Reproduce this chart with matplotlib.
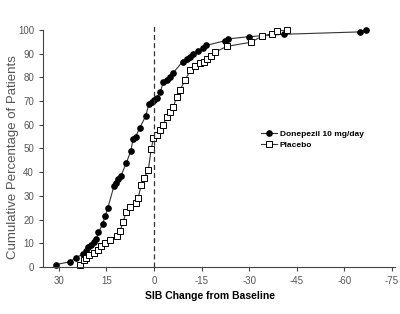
import matplotlib.pyplot as plt

plt.rcParams['font.family'] = ['Liberation Sans', 'DejaVu Sans']

# SIB change from baseline (x) vs cumulative percentage of patients (y)
donepezil_x = [31, 26.5, 24.5, 22.5, 21.5, 20.7, 19.8, 19, 18.3, 17.5, 16.2, 15.4, 14.6,
               12.6, 12, 11.3, 10.4, 8.7, 7.3, 6.6, 5.8, 4.5, 2.6, 1.6, 0.7, 0, -0.9,
               -2, -2.9, -4, -5, -6.1, -9, -10.3, -11.5, -12.4, -13.8, -15.4, -16.5,
               -22.5, -23.2, -30, -41, -65, -67]
donepezil_y = [1, 2.2, 4, 5.4, 6.9, 8.3, 9.4, 10.7, 11.7, 14.6, 18.1, 21.6, 24.8,
               34.2, 35.6, 37, 38.5, 44, 49, 54, 55, 58.6, 63.8, 68.8, 69.6, 70.5, 71.3,
               73.8, 78, 78.9, 80.3, 82, 86.6, 87.8, 88.8, 89.8, 91.3, 92.3, 93.5,
               95.5, 96.2, 97.2, 98.2, 99.2, 100]

placebo_x = [23.4, 22.2, 21.4, 20.4, 18.8, 17.5, 16.7, 15.3, 13.9, 11.8, 10.7, 9.7, 8.8,
             7.6, 5.7, 5, 4, 3.2, 1.8, 0.9, 0.2, -0.9, -2, -2.9, -4, -5, -6.1, -7.2,
             -8.2, -9.8, -11.4, -13, -14.5, -15.7, -16.8, -17.9, -19.2, -23, -30.5,
             -34, -37.1, -38.8, -41.9]
placebo_y = [1, 3, 4, 5, 6, 7.2, 8.9, 10, 11.4, 13.1, 15.2, 19.1, 23.3,
             25.2, 26.9, 29.2, 34.6, 37.4, 40.9, 49.6, 54.3, 55.7, 57.8, 59.9, 63.4, 65.5, 67.6, 71.9,
             74.7, 78.7, 83, 85, 85.9, 86.7, 87.6, 89, 90.6, 93.1, 94.8,
             97.3, 98.4, 99.5, 100]

x_ticks = [30, 15, 0, -15, -30, -45, -60, -75]
y_ticks = [0, 10, 20, 30, 40, 50, 60, 70, 80, 90, 100]

fig = plt.figure(figsize=(4, 3.14), dpi=100)
ax = fig.add_axes([0.1075, 0.1497, 0.88, 0.7548])

ax.plot(donepezil_x, donepezil_y, color='#333333', lw=0.8, marker='o', ms=3.8,
        mfc='black', mec='black', label='Donepezil 10 mg/day', clip_on=False)
ax.plot(placebo_x, placebo_y, color='#333333', lw=0.8, marker='s', ms=3.8,
        mfc='white', mec='black', mew=0.7, label='Placebo', clip_on=False)
ax.plot([0, 0], [0, 102.5], color='#333333', lw=0.9, ls=(0, (4, 2.5)), clip_on=False)

ax.set_xlim(35, -76)
ax.set_ylim(0, 100)
ax.set_xticks(x_ticks)
ax.set_yticks(y_ticks)
ax.set_xticklabels([str(t) for t in x_ticks])
ax.tick_params(labelsize=7, labelcolor='#555555', color='#444444', length=3, width=0.8)
for s in ['top', 'right']:
    ax.spines[s].set_visible(False)
for s in ['left', 'bottom']:
    ax.spines[s].set_color('#444444')
    ax.spines[s].set_linewidth(0.8)

ax.set_xlabel('SIB Change from Baseline', fontsize=7.5, fontweight='bold')
ax.xaxis.set_label_coords(0.474, -0.1)
ax.set_ylabel('Cumulative Percentage of Patients', fontsize=9.5, color='#555555')
ax.yaxis.set_label_coords(-0.068, 0.465)

ax.legend(loc='upper left', bbox_to_anchor=(0.652, 0.585), bbox_transform=fig.transFigure,
          frameon=False, handlelength=1.9, handletextpad=0.4,
          borderpad=0, borderaxespad=0, labelspacing=0.35,
          prop={'weight': 'bold', 'size': 6})

fig.savefig('out.png', dpi=100)
